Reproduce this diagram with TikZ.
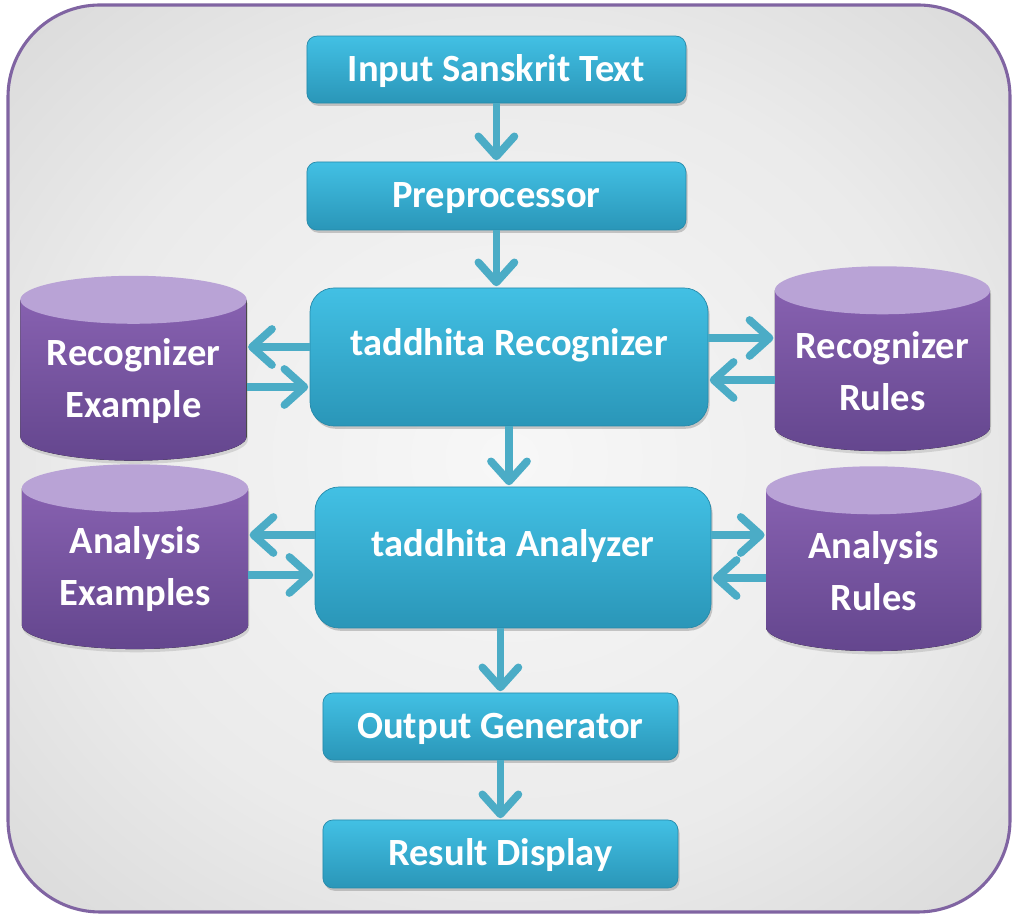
\documentclass[tikz,border=0pt]{standalone}
\usepackage{fontspec}
\setmainfont{Carlito}
\usetikzlibrary{arrows.meta,shadows,backgrounds}

\definecolor{boxtop}{RGB}{66,192,228}
\definecolor{boxbot}{RGB}{42,150,184}
\definecolor{boxline}{RGB}{38,138,170}
\definecolor{flowc}{RGB}{75,172,198}
\definecolor{dbtopc}{RGB}{185,163,214}
\definecolor{dbupper}{RGB}{135,97,176}
\definecolor{dblower}{RGB}{100,70,142}
\definecolor{framec}{RGB}{128,100,162}

\pgfdeclareradialshading{bgshade}{\pgfpoint{0bp}{0bp}}{color(0bp)=(white!97!black); color(22bp)=(white!92!black); color(50bp)=(white!78!black); color(72bp)=(white!68!black)}

\tikzset{
    proc/.style={rounded corners=0.25cm, top color=boxtop, bottom color=boxbot, draw=boxline, line width=0.5pt,
        text=white, font=\bfseries\fontsize{27.4}{37}\selectfont, text height=0.62cm, text depth=0.02cm,
        drop shadow={opacity=0.4, shadow xshift=0.04cm, shadow yshift=-0.07cm}},
    bigproc/.style={proc, rounded corners=0.6cm, text depth=0.68cm},
    dbtext/.style={text=white, font=\bfseries\fontsize{27.4}{37}\selectfont, align=center, outer sep=0pt},
    dbleft/.style={dbtext, minimum width=5.66cm},
    dbright/.style={dbtext, minimum width=5.38cm},
    dbside/.style={top color=dbupper, bottom color=dblower,
        drop shadow={opacity=0.25, shadow xshift=0.03cm, shadow yshift=-0.08cm}},
    flow/.style={draw=flowc, line width=5.5pt, -{Straight Barb[length=0.5cm,width=0.9cm,round]}, shorten >=1pt},
}

\begin{document}
\begin{tikzpicture}
    \useasboundingbox (0,0) rectangle (25.4,22.9);
    % Fondo
    \begin{scope}[on background layer]
        \shade[draw=framec, line width=2.2pt, rounded corners=2.3cm, shading=bgshade] (0.2,0.1) rectangle (25.25,22.775);
    \end{scope}
    % Cajas
    \node[proc, minimum width=9.475cm, minimum height=1.675cm] (inp) at (12.41,21.16) {Input Sanskrit Text};
    \node[proc, minimum width=9.475cm, minimum height=1.7cm] (pre) at (12.41,18.0) {Preprocessor};
    \node[bigproc, minimum width=9.95cm, minimum height=3.45cm] (rec) at (12.725,13.975) {taddhita Recognizer};
    \node[bigproc, minimum width=9.9cm, minimum height=3.525cm] (ana) at (12.825,8.9625) {taddhita Analyzer};
    \node[proc, minimum width=8.875cm, minimum height=1.675cm] (out) at (12.51,4.7375) {Output Generator};
    \node[proc, minimum width=8.875cm, minimum height=1.7cm] (res) at (12.51,1.55) {Result Display};
    % Bases de datos
    \node[dbleft] (recex) at (3.3375,13.375) {Recognizer\\Example};
    \node[dbleft] (anaex) at (3.375,8.6625) {Analysis\\Examples};
    \node[dbright] (recru) at (22.06,13.6125) {Recognizer\\Rules};
    \node[dbright] (anaru) at (21.84,8.6125) {Analysis\\Rules};
    \begin{scope}[on background layer]
        \foreach \n/\r in {recex/2.83,anaex/2.83,recru/2.69,anaru/2.69}{
            \fill[dbside] ([yshift=2.03cm]\n.west) -- ([yshift=-1.39cm]\n.west)
                arc[start angle=180, end angle=360, x radius=\r cm, y radius=0.6cm]
                -- ([yshift=2.03cm]\n.east) -- cycle;
            \fill[dbtopc] ([yshift=2.03cm]\n.center) ellipse[x radius=\r cm, y radius=0.6cm];
        }
    \end{scope}
    % Flechas
    \draw[flow] (inp) -- (pre);
    \draw[flow] (pre.south) -- (pre.south |- rec.north);
    \draw[flow] (rec.south) -- (rec.south |- ana.north);
    \draw[flow] (out.north |- ana.south) -- (out.north);
    \draw[flow] (out) -- (res);
    \draw[flow] ([yshift=0.25cm]rec.west) -- ([yshift=0.25cm]rec.west -| recex.east);
    \draw[flow] ([yshift=-0.75cm]rec.west -| recex.east) -- ([yshift=-0.75cm]rec.west);
    \draw[flow] ([yshift=0.475cm]rec.east) -- ([yshift=0.475cm]rec.east -| recru.west);
    \draw[flow] ([yshift=-0.575cm]rec.east -| recru.west) -- ([yshift=-0.575cm]rec.east);
    \draw[flow] ([yshift=0.5625cm]ana.west) -- ([yshift=0.5625cm]ana.west -| anaex.east);
    \draw[flow] ([yshift=-0.4375cm]ana.west -| anaex.east) -- ([yshift=-0.4375cm]ana.west);
    \draw[flow] ([yshift=0.5625cm]ana.east) -- ([yshift=0.5625cm]ana.east -| anaru.west);
    \draw[flow] ([yshift=-0.5125cm]ana.east -| anaru.west) -- ([yshift=-0.5125cm]ana.east);
\end{tikzpicture}
\end{document}
